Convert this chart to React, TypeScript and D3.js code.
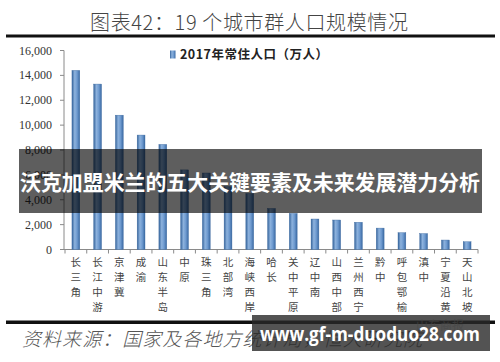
import React from "react";
import * as d3 from "d3";

const categories = ["长三角", "长江中游", "京津冀", "成渝", "山东半岛", "中原", "珠三角", "北部湾", "海峡西岸", "哈长", "关中平原", "辽中南", "山西中部", "兰州西宁", "黔中", "呼包鄂榆", "滇中", "宁夏沿黄", "天山北坡"];
const population2017 = [14400, 13300, 10800, 9200, 8450, 6400, 6150, 5050, 4500, 3300, 2900, 2450, 2370, 2190, 1720, 1350, 1280, 760, 620];
const yTicks = [0, 2000, 4000, 6000, 8000, 10000, 12000, 14000, 16000];
const titleText = "图表42：19 个城市群人口规模情况";
const legendText = "2017年常住人口（万人）";
const bannerText = "沃克加盟米兰的五大关键要素及未来发展潜力分析";
const sourceText = "资料来源：国家及各地方统计局，恒大研究院";
const watermarkText = "www.gf-m-duoduo28.com";

export default function App() {
  const W = 500, H = 362;
  const x = d3.scaleBand<string>().domain(categories).range([65, 478]).paddingInner(0.64).paddingOuter(0.32);
  const band = d3.scaleBand<string>().domain(categories).range([65, 478]);
  const y = d3.scaleLinear().domain([0, 16000]).range([249.5, 50.5]);
  const fmt = d3.format(",");
  const serif = "'Liberation Serif', 'Times New Roman', 'Noto Sans CJK SC', serif";
  const cjk = "'Noto Sans CJK SC', sans-serif";
  return (
    <svg width={W} height={H} style={{ position: "fixed", left: 0, top: 0, background: "#fff" }}>
      <defs>
        <linearGradient id="barg" x1="0" x2="1" y1="0" y2="0">
          <stop offset="0%" stopColor="#35649c" />
          <stop offset="35%" stopColor="#8db2dd" />
          <stop offset="65%" stopColor="#6f9bd0" />
          <stop offset="100%" stopColor="#3a69a3" />
        </linearGradient>
      </defs>
      <rect x={0} y={0} width={W} height={H} fill="#fff" />
      <text x={249} y={30} textAnchor="middle" fontFamily={cjk} fontWeight={300} fontSize={20} fill="#444" textLength={318} lengthAdjust="spacing">{titleText}</text>
      <rect x={6} y={34.5} width={489} height={3} fill="#111" />

      {/* axes */}
      <line x1={64} x2={64} y1={y(16000)} y2={y(0)} stroke="#8a8a8a" strokeWidth={1} />
      {yTicks.map(t => (
        <g key={t}>
          <line x1={60} x2={64} y1={y(t)} y2={y(t)} stroke="#8a8a8a" />
          <text x={52} y={y(t) + 4} textAnchor="end" fontFamily={serif} fontSize={12} fill="#333">{fmt(t)}</text>
        </g>
      ))}
      <line x1={64} x2={478} y1={y(0)} y2={y(0)} stroke="#8a8a8a" />
      {categories.concat([""]).map((c, i) => {
        const xx = 65 + i * band.step();
        return <line key={"t" + i} x1={xx} x2={xx} y1={y(0)} y2={y(0) + 4} stroke="#8a8a8a" />;
      })}

      {categories.map((c, i) => (
        <rect key={c} x={x(c)} y={y(population2017[i])} width={x.bandwidth()} height={y(0) - y(population2017[i])} fill="url(#barg)" stroke="#3d6aa0" strokeWidth={0.4} />
      ))}

      {categories.map(c => (
        <text key={"l" + c} fontFamily={cjk} fontSize={10.5} fill="#444" textAnchor="middle">
          {c.split("").map((ch, j) => (
            <tspan key={j} x={(band(c) as number) + band.bandwidth() / 2} y={266 + j * 15}>{ch}</tspan>
          ))}
        </text>
      ))}

      {/* legend */}
      <rect x={170} y={50.5} width={5.5} height={8} fill="url(#barg)" />
      <text x={180} y={59} fontFamily={cjk} fontWeight={700} fontSize={12.5} fill="#222" textLength={148} lengthAdjust="spacing">{legendText}</text>

      {/* banner overlay */}
      <rect x={19} y={149} width={463} height={64} fill="rgba(0,0,0,0.63)" />
      <text x={250} y={190} textAnchor="middle" fontFamily={cjk} fontWeight={700} fontSize={21} fill="#fff" textLength={460} lengthAdjust="spacingAndGlyphs">{bannerText}</text>

      {/* footer */}
      <rect x={6} y={320.5} width={489} height={3.5} fill="#111" />
      <text x={22} y={346} fontFamily={cjk} fontStyle="italic" fontWeight={300} fontSize={19} fill="#555" textLength={400} lengthAdjust="spacing">{sourceText}</text>
      <text x={440} y={330} textAnchor="middle" fontFamily={cjk} fontSize={12} fill="#bbb" opacity={0.6}>山东商报</text>
      <rect x={252} y={315} width={238} height={36} fill="rgba(40,40,40,0.8)" />
      <text x={260} y={341} fontFamily="'Open Sans', 'DejaVu Sans', sans-serif" fontWeight={700} fontSize={20} fill="#fff" textLength={220} lengthAdjust="spacingAndGlyphs">{watermarkText}</text>
    </svg>
  );
}
